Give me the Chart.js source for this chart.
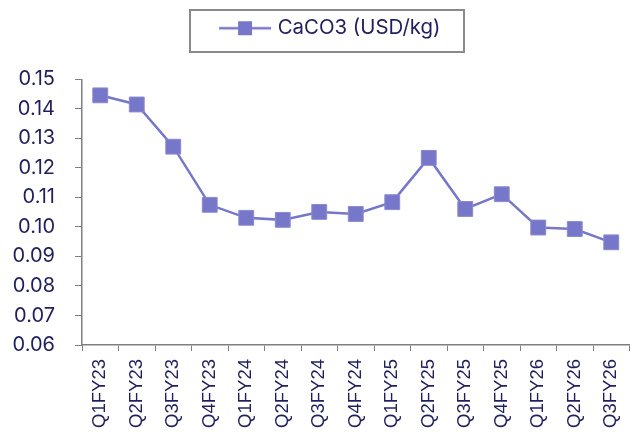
<!DOCTYPE html>
<html>
<head>
<meta charset="utf-8">
<script src="https://cdn.jsdelivr.net/npm/chart.js@4/dist/chart.umd.min.js"></script>
<style>
  html, body { margin: 0; padding: 0; background: #ffffff; }
  #wrap { width: 641px; height: 436px; position: relative; }
</style>
</head>
<body>
<div id="wrap"><canvas id="c" width="641" height="436"></canvas></div>
<script>
// Quarterly calcium carbonate price, USD per kg
const quarters = ['Q1FY23','Q2FY23','Q3FY23','Q4FY23','Q1FY24','Q2FY24','Q3FY24','Q4FY24',
                  'Q1FY25','Q2FY25','Q3FY25','Q4FY25','Q1FY26','Q2FY26','Q3FY26'];
const caco3Price = [0.1446, 0.1415, 0.1272, 0.1075, 0.1031, 0.1024, 0.1051, 0.1044,
                    0.1084, 0.1234, 0.1061, 0.1111, 0.0998, 0.0993, 0.0948];
const yTicks = [0.06, 0.07, 0.08, 0.09, 0.10, 0.11, 0.12, 0.13, 0.14, 0.15];

const LINE = '#7777c9';
const TEXT = '#1f1f5e';
const AXIS = '#7f7f7f';

// legend swatch: short line with a square marker (left part left transparent)
const swatch = document.createElement('canvas');
swatch.width = 84; swatch.height = 18;
(function () {
  const g = swatch.getContext('2d');
  g.strokeStyle = LINE; g.lineWidth = 2.5;
  g.beginPath(); g.moveTo(31, 9); g.lineTo(83, 9); g.stroke();
  g.fillStyle = LINE;
  g.fillRect(50, 2, 14, 14);
})();

// frame around the legend
const legendFrame = {
  id: 'legendFrame',
  afterDraw(chart) {
    const ctx = chart.ctx;
    ctx.save();
    ctx.strokeStyle = '#8a8a8a';
    ctx.lineWidth = 2;
    ctx.strokeRect(190, 10, 274, 42);
    ctx.restore();
  }
};

new Chart(document.getElementById('c'), {
  type: 'line',
  data: {
    labels: quarters,
    datasets: [{
      label: 'CaCO3 (USD/kg)',
      data: caco3Price,
      borderColor: LINE,
      backgroundColor: LINE,
      borderWidth: 2.5,
      pointStyle: 'rect',
      pointRadius: 10.5,
      pointHoverRadius: 10.5,
      pointBackgroundColor: LINE,
      pointBorderColor: '#8a8ad4',
      pointBorderWidth: 1,
      tension: 0
    }]
  },
  options: {
    responsive: false,
    animation: false,
    layout: { padding: { left: 0, right: 8, top: 10, bottom: 0 } },
    plugins: {
      tooltip: { enabled: false },
      // empty spacer between the legend and the plot
      title: { display: true, text: '', weight: 500, padding: { top: 0, bottom: 19 }, font: { size: 10 } },
      legend: {
        display: true,
        position: 'top',
        labels: {
          usePointStyle: true,
          pointStyle: swatch,
          pointStyleWidth: 75,
          color: TEXT,
          font: { family: 'Inter', size: 20.4 },
          padding: 8,
          generateLabels(chart) {
            const ds = chart.data.datasets[0];
            return [{ text: ds.label, pointStyle: swatch, fontColor: TEXT, datasetIndex: 0, lineWidth: 0 }];
          }
        }
      }
    },
    scales: {
      x: {
        offset: true,
        afterFit(scale) { scale.height = 91; scale.paddingLeft = 0; scale.paddingRight = 0; },
        grid: { display: true, drawOnChartArea: false, drawTicks: true, tickLength: 6, color: AXIS, offset: true },
        border: { display: true, color: AXIS, width: 1.5 },
        ticks: {
          color: TEXT,
          font: { family: 'Liberation Sans', size: 18.5 },
          minRotation: 90, maxRotation: 90, autoSkip: false, padding: 8
        }
      },
      y: {
        min: 0.06, max: 0.15,
        afterBuildTicks(axis) { axis.ticks = yTicks.map(v => ({ value: v })); },
        afterFit(scale) { scale.width = 82; },
        grid: { display: true, drawOnChartArea: false, drawTicks: true, tickLength: 7, color: AXIS },
        border: { display: true, color: AXIS, width: 1.5 },
        ticks: {
          color: TEXT,
          font: { family: 'Inter', size: 20 },
          padding: 20,
          callback: v => Number(v).toFixed(2)
        }
      }
    }
  },
  plugins: [legendFrame]
});
</script>
</body>
</html>
